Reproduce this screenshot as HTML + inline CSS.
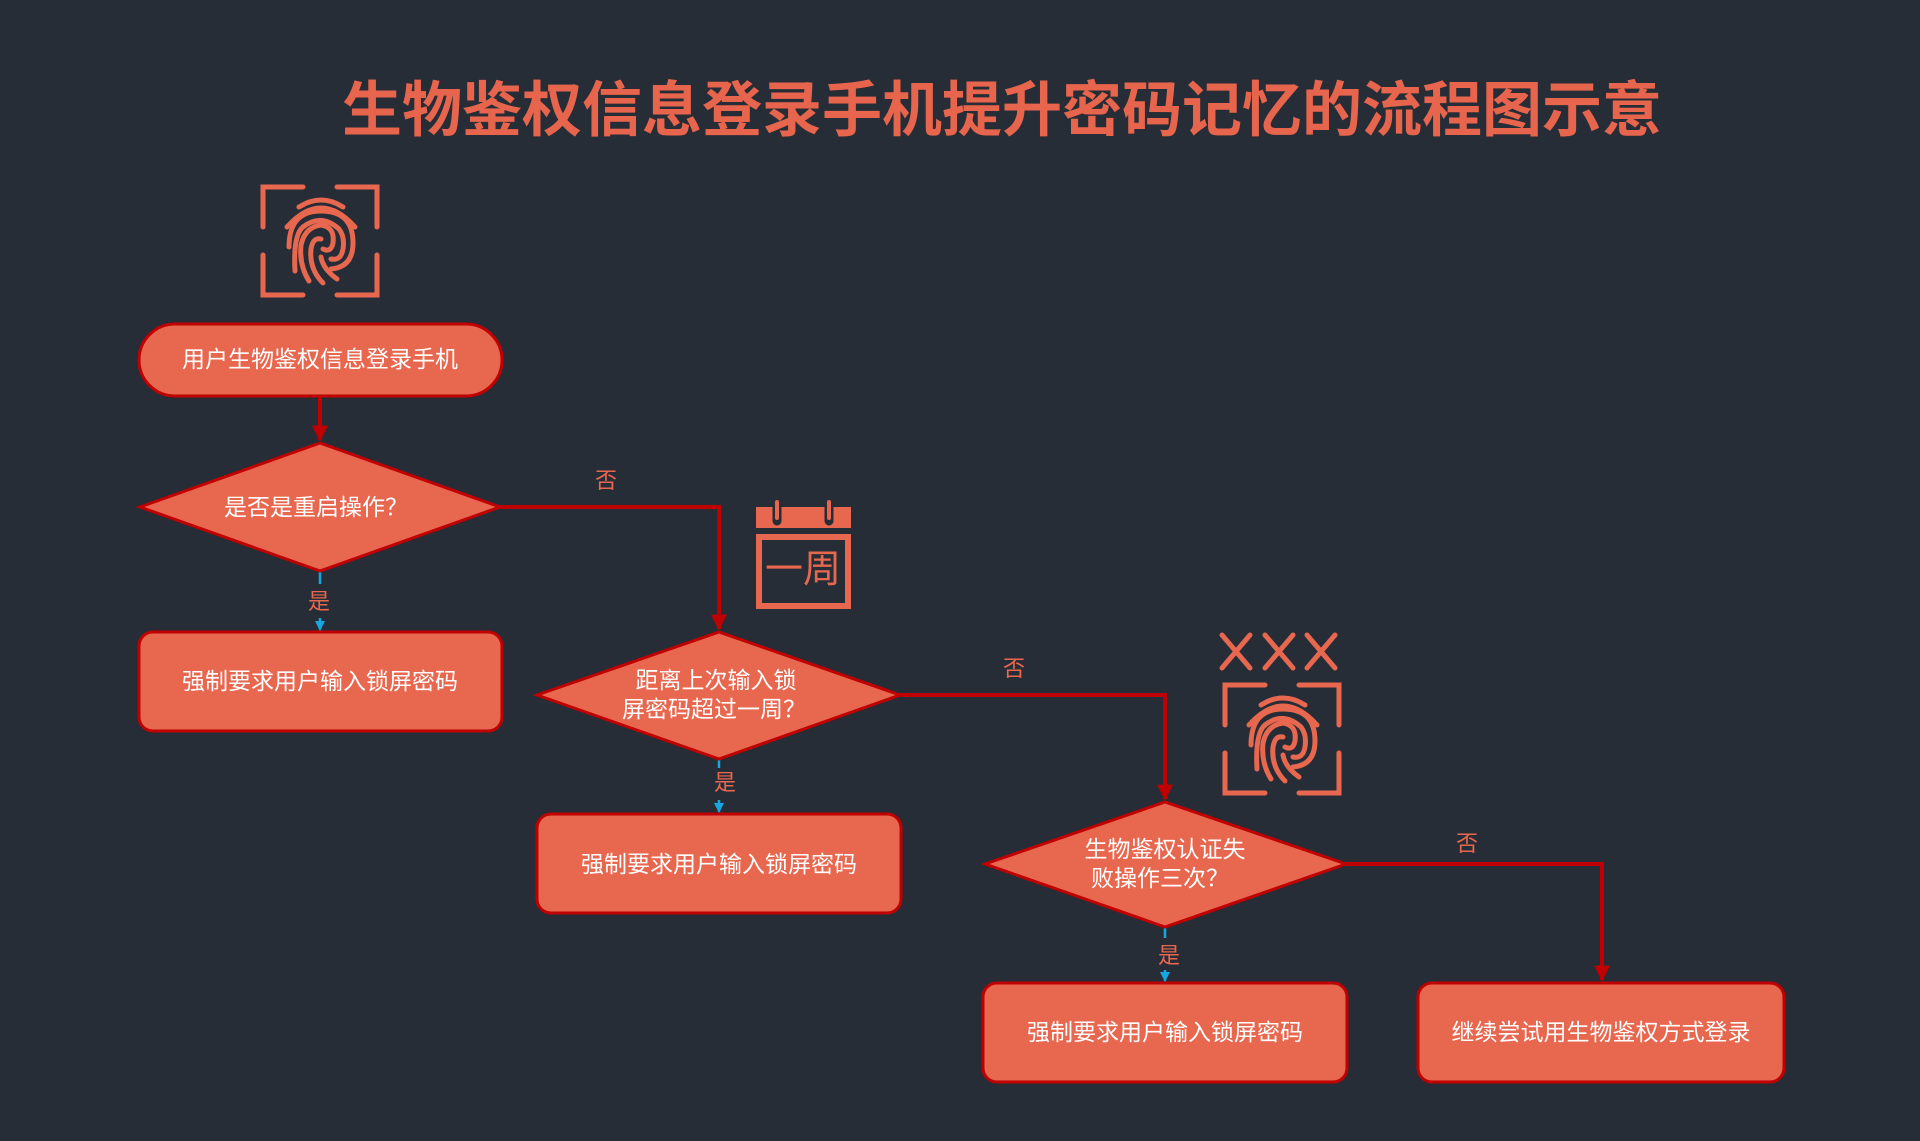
<!DOCTYPE html>
<html><head><meta charset="utf-8"><style>
html,body{margin:0;padding:0;background:#272d36;}
svg{display:block;}
text{font-family:"Liberation Sans","Noto Sans CJK SC",sans-serif;}
</style></head><body>
<svg width="1920" height="1141" viewBox="0 0 1920 1141" xmlns="http://www.w3.org/2000/svg">
<defs>
<marker id="ar" viewBox="0 0 10 10" refX="9" refY="5" markerWidth="4" markerHeight="4" orient="auto"><path d="M0,0 L10,5 L0,10 z" fill="#c00000"/></marker>
<marker id="ab" viewBox="0 0 10 10" refX="9" refY="5" markerWidth="4" markerHeight="4" orient="auto"><path d="M0,0 L10,5 L0,10 z" fill="#16a6e0"/></marker>
<g id="fp" fill="none" stroke="#e8674f" stroke-width="5" stroke-linecap="round">
<path d="M2,42 V2 H42 M76,2 H116 V42 M116,70 V110 H76 M42,110 H2 V70"/>
<path d="M38,22 Q60,8 82,22"/>
<path d="M26,42 Q60,4 94,42"/>
<path d="M28,62 Q28,26 60,26 Q92,26 92,58 Q92,82 70,84"/>
<path d="M34,86 Q32,50 42,42 Q60,28 78,44 Q84,52 82,64 Q80,76 70,74"/>
<path d="M48,96 Q38,80 40,60 Q44,42 60,40 Q74,42 72,58 Q70,68 62,64"/>
<path d="M62,98 Q48,84 50,64 Q52,52 60,54"/>
<path d="M76,94 Q62,84 60,72"/>
</g>
</defs>

<text x="1002" y="131" text-anchor="middle" font-size="60" font-weight="bold" fill="#e8654d">生物鉴权信息登录手机提升密码记忆的流程图示意</text>

<use href="#fp" x="261" y="185"/>
<use href="#fp" x="1223" y="683"/>

<!-- calendar -->
<g fill="#e8674f">
<rect x="756" y="507" width="95" height="21"/>
<rect x="756" y="534" width="95" height="75"/>
<rect x="762" y="540" width="83" height="63" fill="#272d36"/>
</g>
<path d="M777,503 V521 M829,503 V521" stroke="#272d36" stroke-width="9" stroke-linecap="round"/>
<path d="M777,502 V518 M829,502 V518" stroke="#e8674f" stroke-width="4" stroke-linecap="round"/>
<text x="803" y="582" text-anchor="middle" font-size="38" fill="#e8674f">一周</text>

<!-- XXX -->
<g stroke="#e8674f" stroke-width="5" stroke-linecap="round">
<path d="M1222,635 L1250,668 M1250,635 L1222,668"/>
<path d="M1265,635 L1293,668 M1293,635 L1265,668"/>
<path d="M1307,635 L1335,668 M1335,635 L1307,668"/>
</g>

<!-- connectors -->
<g stroke="#c00000" stroke-width="4" fill="none">
<path d="M320,397 V440" marker-end="url(#ar)"/>
<path d="M500,507 H719 V629" marker-end="url(#ar)"/>
<path d="M900,695 H1165 V799" marker-end="url(#ar)"/>
<path d="M1346,864 H1602 V980" marker-end="url(#ar)"/>
</g>
<g stroke="#16a6e0" stroke-width="2.5" fill="none">
<path d="M320,572 V584 M320,618 V630" marker-end="url(#ab)"/>
<path d="M719,760 V768 M719,800 V812" marker-end="url(#ab)"/>
<path d="M1165,928 V938 M1165,970 V981" marker-end="url(#ab)"/>
</g>
<g font-size="22" fill="#e8674f" text-anchor="middle">
<text x="606" y="488">否</text>
<text x="1014" y="676">否</text>
<text x="1467" y="851">否</text>
<text x="319" y="609">是</text>
<text x="725" y="790">是</text>
<text x="1169" y="963">是</text>
</g>

<!-- shapes -->
<g fill="#e8674f" stroke="#c00000" stroke-width="3">
<rect x="139" y="324" width="363" height="72" rx="36"/>
<polygon points="140,507 320,443 500,507 320,571"/>
<rect x="139" y="632" width="363" height="99" rx="14"/>
<polygon points="537,695 719,632 900,695 719,759"/>
<rect x="537" y="814" width="364" height="99" rx="14"/>
<polygon points="985,864 1165,802 1346,864 1165,927"/>
<rect x="983" y="983" width="364" height="99" rx="14"/>
<rect x="1418" y="983" width="366" height="99" rx="14"/>
</g>
<g font-size="23" fill="#ffffff" text-anchor="middle">
<text x="320" y="367">用户生物鉴权信息登录手机</text>
<text x="316" y="515">是否是重启操作？</text>
<text x="320" y="689">强制要求用户输入锁屏密码</text>
<text x="716" y="688">距离上次输入锁</text>
<text x="714" y="717">屏密码超过一周？</text>
<text x="719" y="872">强制要求用户输入锁屏密码</text>
<text x="1165" y="857">生物鉴权认证失</text>
<text x="1160" y="886">败操作三次？</text>
<text x="1165" y="1040">强制要求用户输入锁屏密码</text>
<text x="1601" y="1040">继续尝试用生物鉴权方式登录</text>
</g>
</svg>
</body></html>
